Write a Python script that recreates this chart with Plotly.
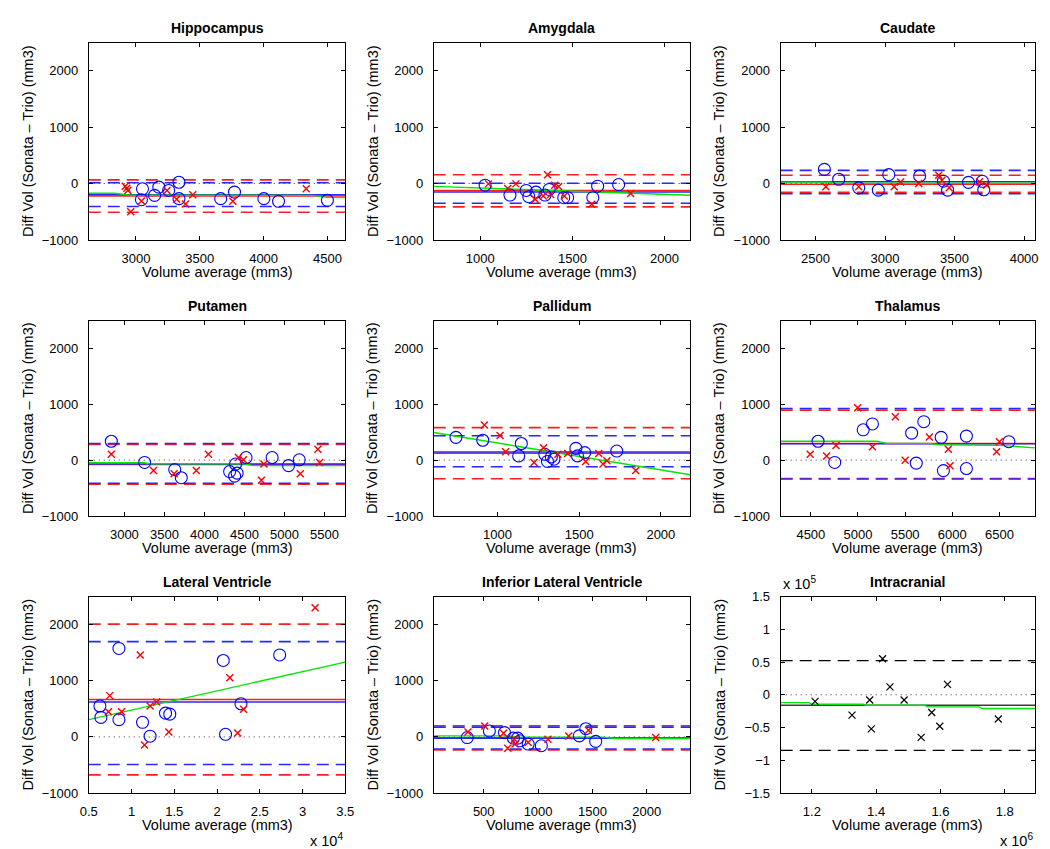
import plotly.graph_objects as go

W, H = 1050, 849

# ---------------- data ----------------
# Hippocampus
hip_blue_x = [3051, 3043, 3146, 3179, 3256, 3337, 3337, 3664, 3772, 4002, 4117, 4500]
hip_blue_y = [-93, -286, -210, -64, -123, 23, -268, -268, -152, -268, -315, -298]
hip_red_x = [2916, 2928, 2936, 2959, 3043, 3243, 3319, 3388, 3445, 3759, 4334]
hip_red_y = [-47, -82, -123, -502, -309, -123, -280, -362, -198, -315, -93]
hip_red_stats = [-222, 65, -508]    # mean, upper, lower
hip_blue_stats = [-198, 15, -408]
hip_fit_x = [2630, 2830, 2950, 4380, 4500, 4640]
hip_fit_y = [-172, -172, -205, -210, -245, -250]

# Amygdala
amy_blue_x = [1026, 1161, 1249, 1263, 1302, 1351, 1374, 1453, 1474, 1611, 1637, 1751]
amy_blue_y = [-29, -204, -123, -233, -152, -204, -105, -251, -251, -251, -47, -18]
amy_red_x = [1044, 1149, 1193, 1298, 1342, 1365, 1382, 1404, 1425, 1456, 1605, 1816]
amy_red_y = [-6, -88, -6, -280, -222, 157, -193, -29, -53, -222, -368, -175]
amy_red_stats = [-122, 157, -414]
amy_blue_stats = [-152, 5, -350]
amy_fit_x = [747, 2140]
amy_fit_y = [-50, -208]

# Caudate
cau_blue_x = [2564, 2667, 2811, 2952, 3027, 3249, 3420, 3450, 3600, 3700, 3710]
cau_blue_y = [251, 76, -76, -117, 158, 134, 41, -117, 20, 40, -110]
cau_red_x = [2575, 2811, 3066, 3112, 3242, 3386, 3409, 3461, 3680, 3730]
cau_red_y = [-58, -58, -58, 29, 0, 146, 58, -76, 30, -30]
cau_red_stats = [-12, 146, -157]
cau_blue_stats = [30, 233, -180]
cau_fit_x = [2250, 2600, 2650, 4080]
cau_fit_y = [25, 25, 5, 5]

# Putamen
put_blue_x = [2837, 3253, 3629, 3711, 4315, 4377, 4389, 4409, 4520, 4846, 5051, 5185]
put_blue_y = [338, -41, -169, -315, -204, -286, -70, -233, 47, 47, -99, 6]
put_red_x = [2837, 3364, 3621, 3899, 4050, 4426, 4487, 4712, 4744, 5198, 5418, 5439]
put_red_y = [105, -187, -245, -187, 105, 47, 6, -362, -70, -245, 193, -41]
put_red_stats = [-80, 280, -430]
put_blue_stats = [-70, 297, -415]
put_fit_x = [2555, 3250, 3300, 4500, 4600, 5760]
put_fit_y = [-47, -47, -65, -65, -99, -99]

# Pallidum
pal_blue_x = [746, 910, 1146, 1130, 1290, 1306, 1330, 1346, 1480, 1490, 1534, 1730]
pal_blue_y = [408, 356, 298, 76, 105, -23, 58, 17, 210, 76, 134, 163]
pal_red_x = [920, 1016, 1050, 1224, 1282, 1370, 1430, 1540, 1620, 1646, 1670, 1846]
pal_red_y = [630, 443, 152, -41, 222, 105, 117, -23, 117, -70, -12, -187]
pal_red_stats = [122, 583, -333]
pal_blue_stats = [146, 438, -117]
pal_fit_x = [610, 2180]
pal_fit_y = [496, -262]

# Thalamus
tha_blue_x = [4576, 4753, 5055, 5153, 5569, 5618, 5698, 5882, 5906, 6150, 6150, 6600]
tha_blue_y = [338, -41, 543, 648, 484, -53, 688, 408, -187, 430, -150, 330]
tha_red_x = [4493, 4667, 4767, 4996, 5153, 5396, 5500, 5757, 5958, 5976, 6470, 6500]
tha_red_y = [105, 76, 263, 939, 239, 776, 0, 414, 193, -99, 150, 330]
tha_red_stats = [300, 893, -330]
tha_blue_stats = [292, 922, -338]
tha_fit_x = [4180, 5200, 5300, 5750, 5850, 6500, 6880]
tha_fit_y = [338, 338, 300, 300, 275, 265, 220]

# Lateral Ventricle
lv_blue_x = [6304, 6419, 8529, 8529, 11291, 12174, 13977, 14476, 20729, 20997, 22801, 27327]
lv_blue_y = [550, 347, 1575, 307, 260, 12, 423, 405, 1361, 46, 590, 1459]
lv_red_x = [7455, 7302, 8836, 11023, 11522, 12174, 12941, 14361, 21496, 22417, 23107, 31470]
lv_red_y = [735, 446, 446, 1459, -145, 550, 620, 87, 1054, 69, 492, 2299]
lv_red_stats = [666, 2009, -677]
lv_blue_stats = [620, 1697, -492]
lv_fit_x = [5000, 35000]
lv_fit_y = [307, 1332]

# Inferior Lateral Ventricle
ilv_blue_x = [348, 552, 691, 773, 812, 833, 909, 1030, 1379, 1439, 1530]
ilv_blue_y = [-12, 105, 76, -23, -23, -70, -128, -157, 17, 145, -81]
ilv_red_x = [355, 509, 682, 721, 782, 788, 909, 1091, 1282, 1464, 2082]
ilv_red_y = [87, 192, 64, -203, -41, -128, -99, -41, 17, 116, -12]
ilv_red_stats = [-15, 198, -233]
ilv_blue_stats = [-23, 174, -215]
ilv_fit_x = [40, 700, 800, 1600, 1700, 2400]
ilv_fit_y = [17, 17, -5, -5, -28, -28]

# Intracranial
icv_x = [1.21e6, 1.325e6, 1.38e6, 1.385e6, 1.42e6, 1.443e6, 1.487e6, 1.54e6, 1.573e6, 1.598e6, 1.622e6, 1.78e6]
icv_y = [-0.10e5, -0.31e5, -0.08e5, -0.52e5, 0.55e5, 0.12e5, -0.08e5, -0.65e5, -0.27e5, -0.48e5, 0.16e5, -0.37e5]
icv_stats = [-0.16e5, 0.52e5, -0.85e5]
icv_fit_x = [1.103e6, 1.19e6, 1.2e6, 1.36e6, 1.37e6, 1.55e6, 1.56e6, 1.72e6, 1.73e6, 1.895e6]
icv_fit_y = [-0.12e5, -0.12e5, -0.145e5, -0.145e5, -0.16e5, -0.16e5, -0.185e5, -0.185e5, -0.21e5, -0.21e5]

titles = ["Hippocampus", "Amygdala", "Caudate", "Putamen", "Pallidum", "Thalamus",
          "Lateral Ventricle", "Inferior Lateral Ventricle", "Intracranial"]
xranges = [[2630, 4640], [747, 2140], [2250, 4080], [2555, 5760], [610, 2180],
           [4180, 6880], [5000, 35000], [40, 2400], [1.103e6, 1.895e6]]
xticks = [[3000, 3500, 4000, 4500], [1000, 1500, 2000], [2500, 3000, 3500, 4000],
          [3000, 3500, 4000, 4500, 5000, 5500], [1000, 1500, 2000],
          [4500, 5000, 5500, 6000, 6500], [5000, 10000, 15000, 20000, 25000, 30000, 35000],
          [500, 1000, 1500, 2000], [1.2e6, 1.4e6, 1.6e6, 1.8e6]]
lv_tick_text = ["0.5", "1", "1.5", "2", "2.5", "3", "3.5"]
icv_xtick_text = ["1.2", "1.4", "1.6", "1.8"]
icv_yticks = [-1.5e5, -1e5, -0.5e5, 0, 0.5e5, 1e5, 1.5e5]
icv_ytick_text = ["\u22121.5", "\u22121", "\u22120.5", "0", "0.5", "1", "1.5"]
std_yticks = [-1000, 0, 1000, 2000]

panels = [
    (hip_blue_x, hip_blue_y, hip_red_x, hip_red_y, hip_red_stats, hip_blue_stats, hip_fit_x, hip_fit_y),
    (amy_blue_x, amy_blue_y, amy_red_x, amy_red_y, amy_red_stats, amy_blue_stats, amy_fit_x, amy_fit_y),
    (cau_blue_x, cau_blue_y, cau_red_x, cau_red_y, cau_red_stats, cau_blue_stats, cau_fit_x, cau_fit_y),
    (put_blue_x, put_blue_y, put_red_x, put_red_y, put_red_stats, put_blue_stats, put_fit_x, put_fit_y),
    (pal_blue_x, pal_blue_y, pal_red_x, pal_red_y, pal_red_stats, pal_blue_stats, pal_fit_x, pal_fit_y),
    (tha_blue_x, tha_blue_y, tha_red_x, tha_red_y, tha_red_stats, tha_blue_stats, tha_fit_x, tha_fit_y),
    (lv_blue_x, lv_blue_y, lv_red_x, lv_red_y, lv_red_stats, lv_blue_stats, lv_fit_x, lv_fit_y),
    (ilv_blue_x, ilv_blue_y, ilv_red_x, ilv_red_y, ilv_red_stats, ilv_blue_stats, ilv_fit_x, ilv_fit_y),
]

# ---------------- layout geometry (pixels) ----------------
col_px = [(73, 334), (424, 685), (777, 1036)]
row_px = [(28, 229), (311, 510), (592, 792)]

FONT = "Liberation Sans, Arial, Helvetica, sans-serif"
RED = "rgb(255,30,30)"
BLUE = "rgb(40,40,255)"
GREEN = "rgb(0,230,0)"
DASH = "12px,7px"
TICK_SIZE = 13
LABEL_SIZE = 14.5
TITLE_SIZE = 14

fig = go.Figure()
layout = dict(width=W, height=H, margin=dict(l=0, r=0, t=0, b=0),
              paper_bgcolor="white", plot_bgcolor="white", showlegend=False,
              font=dict(family=FONT, size=TICK_SIZE, color="black"))
annotations = []


def hline(fig, xa, ya, xr, y, color, dash, width):
    fig.add_trace(go.Scatter(x=[xr[0], xr[1]], y=[y, y], mode="lines", xaxis=xa, yaxis=ya,
                             line=dict(color=color, dash=dash, width=width), hoverinfo="skip"))


for i in range(9):
    r, c = divmod(i, 3)
    n = "" if i == 0 else str(i + 1)
    xa, ya = "x" + n, "y" + n
    x0, x1 = col_px[c]
    y0, y1 = row_px[r]
    xdom = [x0 / W, x1 / W]
    ydom = [1 - y1 / H, 1 - y0 / H]
    xr = xranges[i]
    yr = [-1.5e5, 1.5e5] if i == 8 else [-1000, 2500]

    xax = dict(domain=xdom, range=xr, anchor=ya, tickvals=xticks[i], ticks="inside", ticklen=4,
               tickcolor="black", showline=True, linecolor="black", linewidth=1, mirror="ticks",
               showgrid=False, zeroline=False, tickfont=dict(size=TICK_SIZE), ticklabelstandoff=6)
    yax = dict(domain=ydom, range=yr, anchor=xa, ticks="inside", ticklen=4, tickcolor="black",
               showline=True, linecolor="black", linewidth=1, mirror="ticks", showgrid=False,
               zeroline=False, tickfont=dict(size=TICK_SIZE), ticklabelstandoff=7)
    if i == 6:
        xax["ticktext"] = lv_tick_text
    elif i == 8:
        xax["ticktext"] = icv_xtick_text
    else:
        xax["tickformat"] = "d"
    if i == 8:
        yax["tickvals"] = icv_yticks
        yax["ticktext"] = icv_ytick_text
    else:
        yax["tickvals"] = std_yticks
        yax["tickformat"] = "d"
    layout["xaxis" + n] = xax
    layout["yaxis" + n] = yax

    # zero line
    hline(fig, xa, ya, xr, 0, "rgb(60,60,60)", "1px,4px", 1)

    if i < 8:
        bx, by, rx, ry, rs, bs, fx, fy = panels[i]
        for val in rs[1:]:
            hline(fig, xa, ya, xr, val, RED, DASH, 1.6)
        for val in bs[1:]:
            hline(fig, xa, ya, xr, val, BLUE, DASH, 1.6)
        hline(fig, xa, ya, xr, rs[0], RED, "solid", 1.5)
        hline(fig, xa, ya, xr, bs[0], BLUE, "solid", 1.5)
        fig.add_trace(go.Scatter(x=fx, y=fy, mode="lines", xaxis=xa, yaxis=ya,
                                 line=dict(color=GREEN, width=1.4), hoverinfo="skip"))
        fig.add_trace(go.Scatter(x=bx, y=by, mode="markers", xaxis=xa, yaxis=ya,
                                 marker=dict(symbol="circle-open", size=12, color="blue",
                                             line=dict(width=1.1, color="blue"))))
        fig.add_trace(go.Scatter(x=rx, y=ry, mode="markers", xaxis=xa, yaxis=ya,
                                 marker=dict(symbol="x-thin-open", size=7, color="red",
                                             line=dict(width=1.4, color="red"))))
    else:
        for val in icv_stats[1:]:
            hline(fig, xa, ya, xr, val, "black", DASH, 1.2)
        hline(fig, xa, ya, xr, icv_stats[0], "rgb(60,60,60)", "solid", 1.6)
        fig.add_trace(go.Scatter(x=icv_fit_x, y=icv_fit_y, mode="lines", xaxis=xa, yaxis=ya,
                                 line=dict(color=GREEN, width=1.4), hoverinfo="skip"))
        fig.add_trace(go.Scatter(x=icv_x, y=icv_y, mode="markers", xaxis=xa, yaxis=ya,
                                 marker=dict(symbol="x-thin-open", size=7, color="black",
                                             line=dict(width=1.2, color="black"))))

    cx = (xdom[0] + xdom[1]) / 2
    annotations.append(dict(text="<b>" + titles[i] + "</b>", x=cx, y=ydom[1], xref="paper",
                            yref="paper", xanchor="center", yanchor="bottom", yshift=5,
                            showarrow=False, font=dict(size=TITLE_SIZE)))
    annotations.append(dict(text="Volume average (mm3)", x=cx, y=ydom[0], xref="paper",
                            yref="paper", xanchor="center", yanchor="top", yshift=-22,
                            showarrow=False, font=dict(size=LABEL_SIZE)))
    annotations.append(dict(text="Diff Vol (Sonata \u2013 Trio) (mm3)", x=xdom[0],
                            y=(ydom[0] + ydom[1]) / 2, xref="paper", yref="paper",
                            xanchor="right", yanchor="middle", xshift=-51, textangle=-90,
                            showarrow=False, font=dict(size=LABEL_SIZE)))

# exponent labels
annotations.append(dict(text="x 10<sup>4</sup>", x=col_px[0][1] / W, y=1 - row_px[2][1] / H,
                        xref="paper", yref="paper", xanchor="right", yanchor="top", yshift=-36,
                        showarrow=False, font=dict(size=LABEL_SIZE)))
annotations.append(dict(text="x 10<sup>6</sup>", x=col_px[2][1] / W, y=1 - row_px[2][1] / H,
                        xref="paper", yref="paper", xanchor="right", yanchor="top", yshift=-36,
                        showarrow=False, font=dict(size=LABEL_SIZE)))
annotations.append(dict(text="x 10<sup>5</sup>", x=col_px[2][0] / W, y=1 - row_px[2][0] / H,
                        xref="paper", yref="paper", xanchor="left", yanchor="bottom", yshift=3,
                        showarrow=False, font=dict(size=LABEL_SIZE)))

layout["annotations"] = annotations
fig.update_layout(**layout)
fig.write_html("out.html")
